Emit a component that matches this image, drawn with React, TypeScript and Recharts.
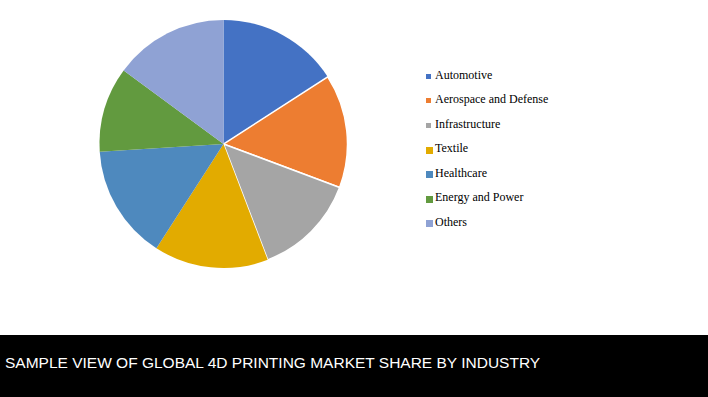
import { PieChart, Pie, Cell, Legend } from 'recharts';

const industries = [
    'Automotive',
    'Aerospace and Defense',
    'Infrastructure',
    'Textile',
    'Healthcare',
    'Energy and Power',
    'Others',
];
const shares = [15.9, 14.8, 13.5, 14.9, 14.9, 11.1, 14.9];
const colors = ['#4472C4', '#ED7D31', '#A5A5A5', '#E2AB00', '#4E89BE', '#629A3F', '#8FA2D4'];
const markerSizes = [5, 5, 5, 7, 7, 7, 7];
const title = 'SAMPLE VIEW OF GLOBAL 4D PRINTING MARKET SHARE BY INDUSTRY';

const data = industries.map((name, i) => ({ name, value: shares[i] }));

const LegendList = () => (
    <div style={{ fontFamily: '"Liberation Serif", "Times New Roman", serif', fontSize: 12, color: '#000' }}>
        {industries.map((name, i) => (
            <div key={name} style={{ display: 'flex', alignItems: 'center', height: 24.5 }}>
                <span
                    style={{
                        display: 'inline-block',
                        width: markerSizes[i],
                        height: markerSizes[i],
                        background: colors[i],
                        marginRight: 9 - markerSizes[i],
                        marginTop: markerSizes[i] === 5 ? 2 : 3,
                    }}
                />
                <span>{name}</span>
            </div>
        ))}
    </div>
);

export default function App() {
    return (
        <div style={{ position: 'absolute', left: 0, top: 0, width: 708, height: 397, background: '#fff' }}>
            <PieChart width={708} height={335} margin={{ top: 0, right: 0, bottom: 0, left: 0 }}>
                <Pie
                    data={data}
                    dataKey="value"
                    nameKey="name"
                    cx={223.5}
                    cy={144}
                    outerRadius={124}
                    startAngle={90}
                    endAngle={-270}
                    isAnimationActive={false}
                    stroke="none"
                >
                    {data.map((d, i) => (
                        <Cell
                            key={d.name}
                            fill={colors[i]}
                            stroke={i === 1 || i === 2 ? '#fff' : 'none'}
                            strokeWidth={1.5}
                        />
                    ))}
                </Pie>
                <Legend
                    content={() => <LegendList />}
                    wrapperStyle={{ position: 'absolute', left: 426, top: 63, width: 200 }}
                />
            </PieChart>
            <div
                style={{
                    position: 'absolute',
                    left: 0,
                    top: 335,
                    width: 708,
                    height: 62,
                    background: '#000',
                    color: '#fff',
                    fontFamily: '"Liberation Sans", Arial, sans-serif',
                    fontSize: 15.5,
                    lineHeight: '20px',
                    paddingLeft: 5,
                    paddingTop: 18,
                    boxSizing: 'border-box',
                    whiteSpace: 'nowrap',
                }}
            >
                {title}
            </div>
        </div>
    );
}
